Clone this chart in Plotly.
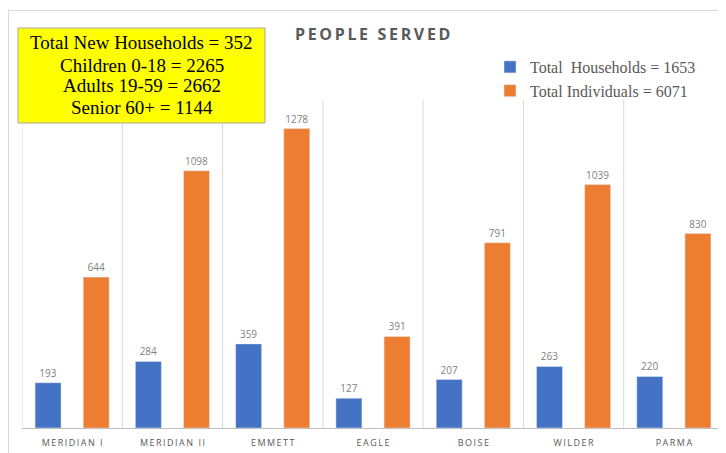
import plotly.graph_objects as go

# ---- data ----
categories = ["MERIDIAN I", "MERIDIAN II", "EMMETT", "EAGLE", "BOISE", "WILDER", "PARMA"]
households = [193, 284, 359, 127, 207, 263, 220]
individuals = [644, 1098, 1278, 391, 791, 1039, 830]
series_names = ["Total  Households = 1653", "Total Individuals = 6071"]
summary_lines = [
    "Total New Households = 352",
    "Children 0-18 = 2265",
    "Adults 19-59 = 2662",
    "Senior 60+ = 1144",
]
title_text = "PEOPLE SERVED"

# page body has an 8px margin; work in screen coordinates and convert
OFF = 8
W, H = 726 - OFF, 453 - OFF
ML, MR, MT, MB = 22 - OFF, 2, 100 - OFF, 25
PW, PH = W - ML - MR, H - MT - MB


def px(x):
    return (x - OFF - ML) / PW


def py(y):
    return (H - MB - (y - OFF)) / PH


def spaced(s, sep="\u2009"):
    return sep.join(list(s))


BLUE = "#4472C4"
ORANGE = "#ED7D31"
GRAY_TXT = "#595959"
GRID = "#d9d9d9"

fig = go.Figure()
xs = list(range(len(categories)))
fig.add_trace(go.Bar(
    x=xs, y=households, name=series_names[0], marker_color=BLUE,
    text=[str(v) for v in households], textposition="outside",
    textfont=dict(family="Open Sans", size=10, color="#7f7f7f"),
    cliponaxis=False,
))
fig.add_trace(go.Bar(
    x=xs, y=individuals, name=series_names[1], marker_color=ORANGE,
    text=[str(v) for v in individuals], textposition="outside",
    textfont=dict(family="Open Sans", size=10, color="#7f7f7f"),
    cliponaxis=False,
))

shapes = []
# category separator gridlines
for i in range(len(categories) + 1):
    shapes.append(dict(type="line", xref="x", yref="paper", x0=i - 0.5, x1=i - 0.5,
                       y0=0, y1=1, line=dict(color=GRID, width=1), layer="below"))
# outer chart frame (top and left)
shapes.append(dict(type="line", xref="paper", yref="paper", x0=px(8), x1=px(726),
                   y0=py(10.5), y1=py(10.5), line=dict(color=GRID, width=1)))
shapes.append(dict(type="line", xref="paper", yref="paper", x0=px(8.5), x1=px(8.5),
                   y0=py(10), y1=py(453), line=dict(color=GRID, width=1)))
# yellow summary box
shapes.append(dict(type="rect", xref="paper", yref="paper", x0=px(18), x1=px(265),
                   y0=py(123), y1=py(28), fillcolor="#FFFF00",
                   line=dict(color="#a6a6a6", width=1), layer="above"))

annotations = []
line_y = [43, 65, 86, 107]
for txt, yy in zip(summary_lines, line_y):
    annotations.append(dict(text=txt, xref="paper", yref="paper", x=px(141.5), y=py(yy),
                            xanchor="center", yanchor="middle", showarrow=False,
                            font=dict(family="Liberation Serif", size=19, color="#000000")))
annotations.append(dict(text="<b>" + spaced(title_text) + "</b>", xref="paper", yref="paper",
                        x=px(372), y=py(34), xanchor="center", yanchor="middle",
                        showarrow=False,
                        font=dict(family="Open Sans", size=16, color=GRAY_TXT)))

fig.update_layout(
    width=W, height=H,
    margin=dict(l=ML, r=MR, t=MT, b=MB),
    paper_bgcolor="white", plot_bgcolor="white",
    barmode="group", bargap=0.04, bargroupgap=0.46,
    showlegend=True,
    legend=dict(x=px(490), y=py(50), xanchor="left", yanchor="top",
                font=dict(family="Liberation Serif", size=16, color=GRAY_TXT),
                bgcolor="rgba(0,0,0,0)", itemwidth=30),
    xaxis=dict(tickmode="array", tickvals=xs, ticktext=[spaced(c) for c in categories],
               range=[-0.5, len(categories) - 0.5], showgrid=False, zeroline=False,
               showline=True, linecolor="#bfbfbf", linewidth=1, ticks="",
               ticklabelstandoff=6,
               tickfont=dict(family="Open Sans", size=9, color=GRAY_TXT)),
    yaxis=dict(range=[0, 1400], visible=False, showgrid=False, zeroline=False),
    shapes=shapes, annotations=annotations,
)

fig.write_html("out.html")
